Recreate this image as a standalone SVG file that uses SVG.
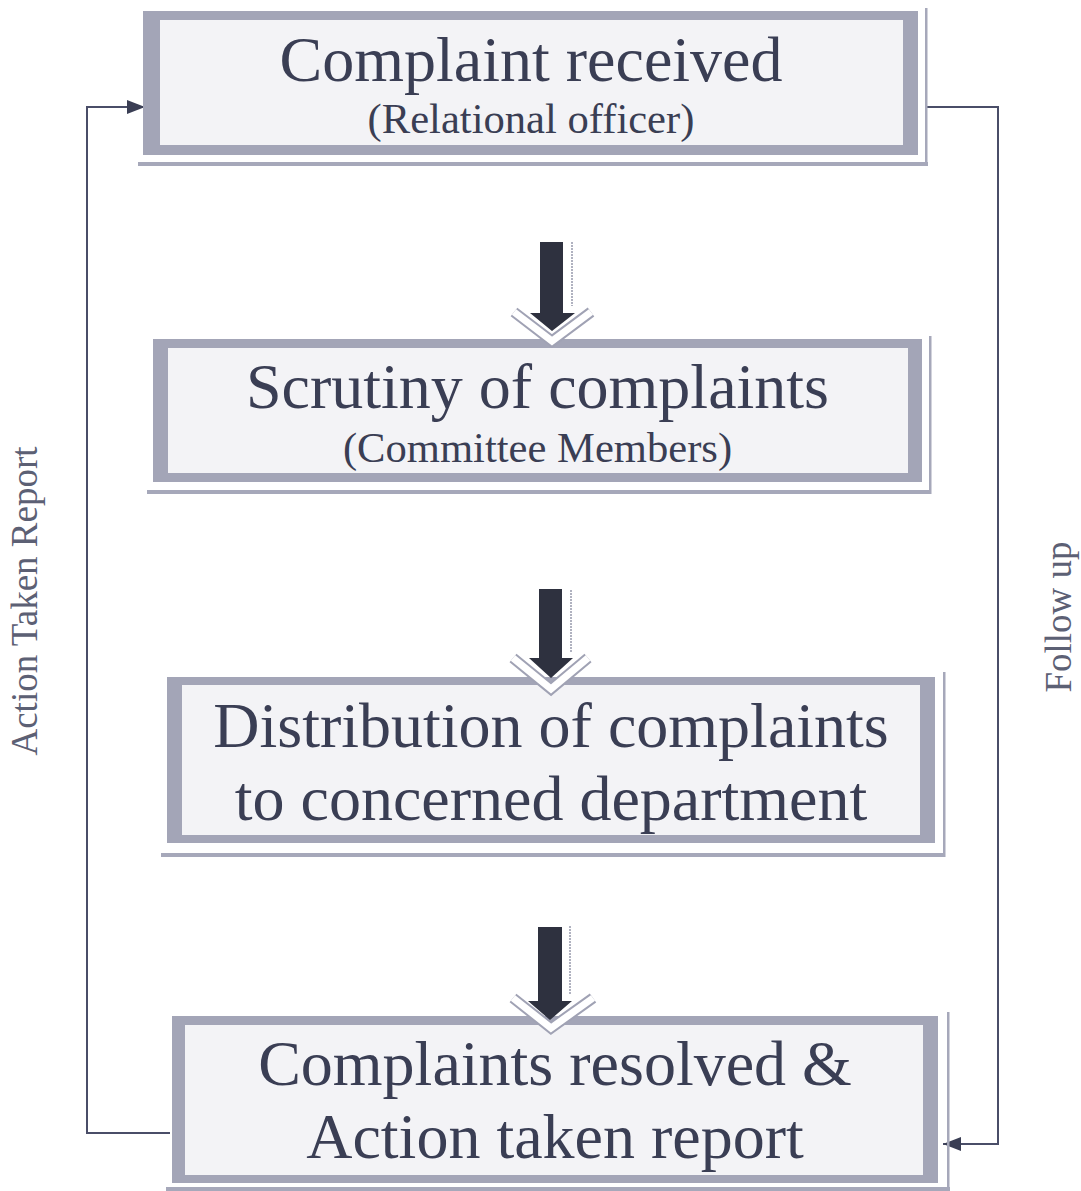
<svg xmlns="http://www.w3.org/2000/svg" width="1081" height="1191" viewBox="0 0 1081 1191">
<defs>
<style>
.frame{fill:#a3a5b7}
.inner{fill:#f3f3f6}
.shadow{fill:#a6a8ba}
.title{font-family:"Liberation Serif","Times New Roman",serif;font-size:64px;fill:#3a3e54;text-anchor:middle}
.sub{font-family:"Liberation Serif","Times New Roman",serif;font-size:42.6px;fill:#3a3e54;text-anchor:middle}
.side{font-family:"Liberation Serif","Times New Roman",serif;font-size:37px;fill:#5c6074;text-anchor:middle}
.conn{fill:none;stroke:#4a4e68;stroke-width:2}
.block{fill:#2e313f}
.chev-o{fill:none;stroke:#a0a2b4;stroke-width:11;stroke-linejoin:miter}
.chev-i{fill:none;stroke:#ffffff;stroke-width:7;stroke-linejoin:miter}
.dots{stroke:#b0b2c0;stroke-width:2;stroke-dasharray:2 1}
</style>
<marker id="ah" viewBox="0 0 18 14" refX="18" refY="7" markerWidth="18" markerHeight="14" markerUnits="userSpaceOnUse" orient="auto">
<path d="M0,0 L18,7 L0,14 z" fill="#3a3e54"/>
</marker>
</defs>
<rect width="1081" height="1191" fill="#ffffff"/>

<g id="connectors">
<polyline class="conn" points="927,107 998,107 998,1144 943,1144" marker-end="url(#ah)"/>
<polyline class="conn" points="170,1133 87,1133 87,107 145,107" marker-end="url(#ah)"/>
</g>

<g id="node1">
<rect class="shadow" x="138" y="162" width="790" height="4"/>
<rect class="shadow" x="925" y="8" width="2.5" height="158"/>
<rect class="frame" x="143" y="11" width="775" height="144"/>
<rect class="inner" x="160" y="20" width="743" height="125"/>
<text class="title" x="531" y="81">Complaint received</text>
<text class="sub" x="531" y="133">(Relational officer)</text>
</g>

<g id="node2">
<rect class="shadow" x="147" y="490" width="784" height="4"/>
<rect class="shadow" x="929" y="336" width="2.5" height="158"/>
<rect class="frame" x="153" y="339" width="769" height="143"/>
<rect class="inner" x="168" y="348" width="740" height="125"/>
<text class="title" x="537.5" y="408">Scrutiny of complaints</text>
<text class="sub" x="537.5" y="462">(Committee Members)</text>
</g>

<g id="node3">
<rect class="shadow" x="161" y="853" width="784" height="4"/>
<rect class="shadow" x="943" y="672" width="2.5" height="185"/>
<rect class="frame" x="167" y="677" width="768" height="166"/>
<rect class="inner" x="182" y="685" width="738" height="150"/>
<text class="title" x="551" y="747">Distribution of complaints</text>
<text class="title" x="551" y="820">to concerned department</text>
</g>

<g id="node4">
<rect class="shadow" x="166" y="1187" width="784" height="4"/>
<rect class="shadow" x="947" y="1012" width="2.5" height="179"/>
<rect class="frame" x="172" y="1016" width="766" height="167"/>
<rect class="inner" x="185" y="1025" width="738" height="150"/>
<text class="title" x="555" y="1085">Complaints resolved &amp;</text>
<text class="title" x="555" y="1158">Action taken report</text>
</g>

<g id="arrow1">
<polyline class="chev-o" points="514,312 552,341 591,312"/>
<polyline class="chev-i" points="514,312 552,341 591,312"/>
<line class="dots" x1="572" y1="242" x2="572" y2="306"/>
<polygon class="block" points="540,242 563,242 563,313 575,313 552,331 530,313 540,313"/>
</g>
<g id="arrow2">
<polyline class="chev-o" points="513,658 551,689 588,658"/>
<polyline class="chev-i" points="513,658 551,689 588,658"/>
<line class="dots" x1="571" y1="590" x2="571" y2="652"/>
<polygon class="block" points="539,589 562,589 562,658 573,658 551,678 529,658 539,658"/>
</g>
<g id="arrow3">
<polyline class="chev-o" points="513,998 551,1028 593,998"/>
<polyline class="chev-i" points="513,998 551,1028 593,998"/>
<line class="dots" x1="570" y1="926" x2="570" y2="994"/>
<polygon class="block" points="538,927 562,927 562,1001 572,1001 550,1020 528,1001 538,1001"/>
</g>

<g id="labels">
<text class="side" transform="translate(37,601) rotate(-90)">Action Taken Report</text>
<text class="side" transform="translate(1071,617) rotate(-90)">Follow up</text>
</g>
</svg>
